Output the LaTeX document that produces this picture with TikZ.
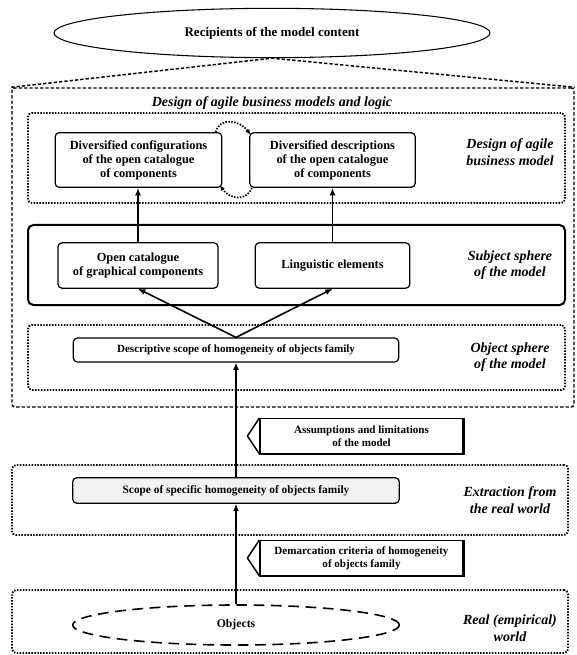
\documentclass[tikz,border=0pt]{standalone}
\usepackage{fontspec}
\setmainfont{Liberation Serif}
\usetikzlibrary{shapes.geometric,fit,arrows.meta}
\begin{document}
\begin{tikzpicture}[x=0.75pt,y=-0.75pt,
  box/.style={draw, rounded corners=3pt, line width=0.9pt, align=center, font=\bfseries\fontsize{9.3}{10.5}\selectfont, inner sep=1pt},
  region/.style={draw, inner sep=0pt, line width=1.4pt, dash pattern=on 1.1pt off 1.1pt, rounded corners=3pt},
  lab/.style={font=\bfseries\itshape\fontsize{10.5}{12.5}\selectfont, align=center},
  arr/.style={-{Latex[length=5.5pt,width=4.5pt]}, line width=1.2pt},
  loopar/.style={dash pattern=on 1.1pt off 1.1pt, line width=1.3pt, -{Latex[length=4pt,width=3.5pt]}},
  callout/.style={draw, line width=1.1pt, align=center, font=\bfseries\fontsize{8.3}{9.5}\selectfont, inner sep=0pt, minimum width=152pt, minimum height=26pt},
  shade/.style={line width=1.9pt}
]
\path[fill=white,use as bounding box] (0,0) rectangle (576,655);

% top ellipse
\node[draw, ellipse, line width=0.8pt, minimum width=327pt, minimum height=37pt, font=\bfseries\fontsize{9.8}{11}\selectfont] (rec) at (272,33) {Recipients of the model content};

% outer dashed region
\node[fit={(12,88)(574,407)}, inner sep=0pt, draw, line width=1.1pt, dash pattern=on 2.5pt off 1.5pt, rounded corners=2pt] (outer) {};
\draw[line width=1.1pt, dash pattern=on 2.5pt off 1.5pt] (outer.north west) -- (rec.south) -- (outer.north east);
\node[lab] (t0) at (272,103) {Design of agile business models and logic};

% design of agile business model
\node[region, fit={(28,113)(565,203)}] (r1) {};
\node[box, minimum width=125pt, minimum height=41pt] (b1) at (138.5,160) {Diversified configurations\\of the open catalogue\\of components};
\node[box, minimum width=124pt, minimum height=41pt] (b2) at (332.5,160) {Diversified descriptions\\of the open catalogue\\of components};
\node[lab] (l1) at (510,152) {Design of agile\\business model};
\draw[loopar] ([xshift=-5pt]b1.north east) .. controls +(4,-16) and +(-10,-14) .. ([xshift=1pt,yshift=-2pt]b2.north west);
\draw[loopar] ([xshift=2pt]b2.south west) .. controls +(-6,14) and +(10,14) .. ([xshift=-2pt,yshift=2pt]b1.south east);

% subject sphere
\node[fit={(28,225)(565,305)}, inner sep=0pt, draw, line width=1.5pt, rounded corners=4pt] (r2) {};
\node[box, minimum width=120pt, minimum height=34pt] (oc) at (138,265.5) {Open catalogue\\of graphical components};
\node[box, minimum width=116pt, minimum height=34pt] (le) at (332.5,265.5) {Linguistic elements};
\node[lab] (l2) at (510,265) {Subject sphere\\of the model};

% object sphere
\node[region, fit={(28,325)(565,390)}] (r3) {};
\node[box, font=\bfseries\fontsize{8.3}{9}\selectfont, minimum width=244pt, minimum height=18pt] (ds) at (236,350) {Descriptive scope of homogeneity of objects family};
\node[lab] (l3) at (510,357) {Object sphere\\of the model};

% callout 1
\node[callout] (c1) at (361.5,436) {Assumptions and limitations\\of the model};
\draw[line width=1.1pt] (c1.north west) -- ([xshift=-9pt]c1.west) -- (c1.south west);
\draw[shade] (c1.north east) -- (c1.south east) -- (c1.south west);

% extraction
\node[region, fit={(12,465)(568,535)}] (r4) {};
\node[box, fill=gray!10, font=\bfseries\fontsize{8.5}{9.5}\selectfont, minimum width=245pt, minimum height=19pt] (ss) at (236,490.5) {Scope of specific homogeneity of objects family};
\node[lab] (l4) at (510,500) {Extraction from\\the real world};

% callout 2
\node[callout] (c2) at (361.5,558) {Demarcation criteria of homogeneity\\of objects family};
\draw[line width=1.1pt] (c2.north west) -- ([xshift=-9pt]c2.west) -- (c2.south west);
\draw[shade] (c2.north east) -- (c2.south east) -- (c2.south west);

% real world
\node[region, fit={(12,590)(568,653)}] (r5) {};
\node[draw, ellipse, dash pattern=on 8pt off 5pt, line width=1.2pt, minimum width=245pt, minimum height=30pt, font=\bfseries\fontsize{8.8}{10}\selectfont] (obj) at (236,625) {Objects};
\node[lab] (l5) at (510,628) {Real (empirical)\\world};

% connectors
\draw[arr] (obj.north) -- (ss.south);
\draw[arr] (ss.north) -- (ds.south);
\draw[arr] (ds.north) -- (oc.south);
\draw[arr] (ds.north) -- (le.south);
\draw[arr] (oc.north) -- (oc.north |- b1.south);
\draw[arr] (le.north) -- (le.north |- b2.south);
\end{tikzpicture}
\end{document}
